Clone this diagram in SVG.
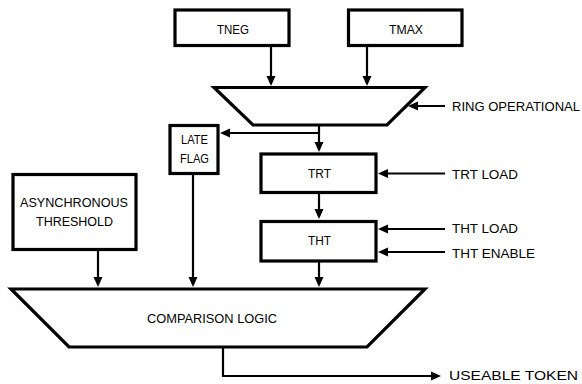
<svg xmlns="http://www.w3.org/2000/svg" width="582" height="384" viewBox="0 0 582 384">
<style>
.box{fill:#fff;stroke:#000;stroke-width:3.2}
.trap{fill:#fff;stroke:#000;stroke-width:3.2;stroke-linejoin:miter}
.con{fill:none;stroke:#000;stroke-width:2.2}
text{font-family:"Liberation Sans",Arial,sans-serif;font-size:12px;fill:#000}
.c{text-anchor:middle}
</style>
<defs>
<marker id="ah" viewBox="0 0 10 10" markerUnits="userSpaceOnUse" markerWidth="10" markerHeight="10" refX="7" refY="5" orient="auto">
<path d="M0,0.5 L10,5 L0,9.5 z" fill="#000"/>
</marker>
</defs>
<rect width="582" height="384" fill="#fff"/>
<g id="connectors">
<line class="con" x1="271" y1="46" x2="271" y2="83" marker-end="url(#ah)"/>
<line class="con" x1="367" y1="46" x2="367" y2="83" marker-end="url(#ah)"/>
<line class="con" x1="445" y1="106" x2="411" y2="106" marker-end="url(#ah)"/>
<line class="con" x1="319" y1="126" x2="319" y2="149" marker-end="url(#ah)"/>
<line class="con" x1="319" y1="133" x2="223" y2="133" marker-end="url(#ah)"/>
<line class="con" x1="319" y1="194" x2="319" y2="216" marker-end="url(#ah)"/>
<line class="con" x1="319" y1="262" x2="319" y2="284" marker-end="url(#ah)"/>
<line class="con" x1="193" y1="175" x2="193" y2="284" marker-end="url(#ah)"/>
<line class="con" x1="98" y1="251" x2="98" y2="284" marker-end="url(#ah)"/>
<line class="con" x1="445" y1="173.5" x2="381" y2="173.5" marker-end="url(#ah)"/>
<line class="con" x1="445" y1="229" x2="381" y2="229" marker-end="url(#ah)"/>
<line class="con" x1="445" y1="252" x2="381" y2="252" marker-end="url(#ah)"/>
<polyline class="con" points="223,348 223,376 438,376" marker-end="url(#ah)"/>
</g>
<g id="tneg">
<rect class="box" x="175" y="10" width="114" height="35.5"/>
<text class="c" x="233" y="34.3" textLength="32" lengthAdjust="spacingAndGlyphs">TNEG</text>
</g>
<g id="tmax">
<rect class="box" x="348.5" y="10" width="113.5" height="35.5"/>
<text class="c" x="406" y="34.3" textLength="34" lengthAdjust="spacingAndGlyphs">TMAX</text>
</g>
<g id="selector">
<polygon class="trap" points="214,87.5 425,87.5 387,125 253,125"/>
</g>
<g id="ring-operational">
<text x="452" y="111.3" textLength="128" lengthAdjust="spacingAndGlyphs">RING OPERATIONAL</text>
</g>
<g id="late-flag">
<rect class="box" x="170" y="125.5" width="48" height="48"/>
<text class="c" x="194.5" y="144.3" textLength="27" lengthAdjust="spacingAndGlyphs">LATE</text>
<text class="c" x="194.5" y="162.6" textLength="29" lengthAdjust="spacingAndGlyphs">FLAG</text>
</g>
<g id="trt">
<rect class="box" x="261" y="154" width="115" height="38.5"/>
<text class="c" x="319.5" y="177.6" textLength="23" lengthAdjust="spacingAndGlyphs">TRT</text>
</g>
<g id="trt-load">
<text x="452" y="178.6" textLength="66" lengthAdjust="spacingAndGlyphs">TRT LOAD</text>
</g>
<g id="tht">
<rect class="box" x="261" y="221.5" width="115" height="39.5"/>
<text class="c" x="319.5" y="245.3" textLength="23" lengthAdjust="spacingAndGlyphs">THT</text>
</g>
<g id="tht-load">
<text x="452" y="232.6" textLength="66" lengthAdjust="spacingAndGlyphs">THT LOAD</text>
</g>
<g id="tht-enable">
<text x="452" y="257.6" textLength="83" lengthAdjust="spacingAndGlyphs">THT ENABLE</text>
</g>
<g id="async-threshold">
<rect class="box" x="13" y="174.5" width="123" height="75"/>
<text class="c" x="74" y="207" textLength="108" lengthAdjust="spacingAndGlyphs">ASYNCHRONOUS</text>
<text class="c" x="74.5" y="225.6" textLength="77" lengthAdjust="spacingAndGlyphs">THRESHOLD</text>
</g>
<g id="comparison-logic">
<polygon class="trap" points="11,289 425,289 367,347 69,347"/>
<text x="147" y="323" textLength="130" lengthAdjust="spacingAndGlyphs">COMPARISON LOGIC</text>
</g>
<g id="useable-token">
<text x="449" y="380" textLength="129" lengthAdjust="spacingAndGlyphs">USEABLE TOKEN</text>
</g>
</svg>
